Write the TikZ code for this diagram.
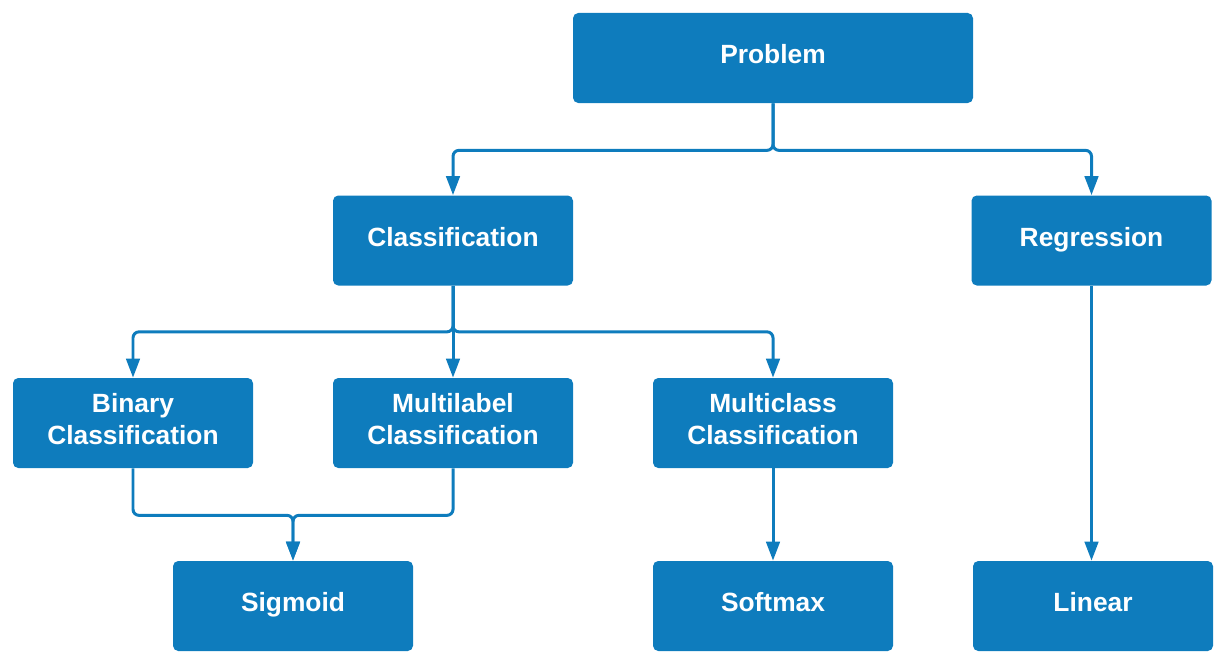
\documentclass[tikz,border=0pt]{standalone}
\usepackage{fontspec}
\setmainfont{Liberation Sans}
\usetikzlibrary{arrows.meta}
\definecolor{boxblue}{RGB}{14,124,189}
\tikzset{
  block/.style={fill=boxblue,text=white,rounded corners=3pt,minimum width=4.8cm,minimum height=1.8cm,
    align=center,inner sep=0pt,font=\bfseries\fontsize{15}{18}\selectfont,
    execute at begin node={\rule{0pt}{0.73em}},execute at end node={\rule[-0.3em]{0pt}{0.3em}}},
  link/.style={draw=boxblue,line width=1.7pt,rounded corners=0.12cm},
  arr/.style={link,-{Triangle[length=0.38cm,width=0.27cm]}}
}
\begin{document}
\begin{tikzpicture}
	\useasboundingbox (0,0) rectangle (24.52,-13.28);
	% boxes
	\node[block,minimum width=8cm] (prob) at (15.46,-1.16) {Problem};
	\node[block] (cls) at (9.06,-4.81) {Classification};
	\node[block] (reg) at (21.83,-4.81) {Regression};
	\node[block] (bin) at (2.66,-8.46) {Binary\\Classification};
	\node[block] (mlab) at (9.06,-8.46) {Multilabel\\Classification};
	\node[block] (mcls) at (15.46,-8.46) {Multiclass\\Classification};
	\node[block] (sig) at (5.86,-12.12) {Sigmoid};
	\node[block] (soft) at (15.46,-12.12) {Softmax};
	\node[block] (lin) at (21.86,-12.12) {Linear};
	% connectors
	\draw[arr] (prob.south) -- ++(0,-0.94) -| (cls.north);
	\draw[arr] (prob.south) -- ++(0,-0.94) -| (reg.north);
	\draw[arr] (cls.south) -- ++(0,-0.92) -| (bin.north);
	\draw[arr] (cls.south) -- (mlab.north);
	\draw[arr] (cls.south) -- ++(0,-0.92) -| (mcls.north);
	\draw[arr] (bin.south) -- ++(0,-0.94) -| (sig.north);
	\draw[arr] (mlab.south) -- ++(0,-0.94) -| (sig.north);
	\draw[arr] (mcls.south) -- (soft.north);
	\draw[arr] (reg.south) -- (reg.south |- lin.north);
\end{tikzpicture}
\end{document}
